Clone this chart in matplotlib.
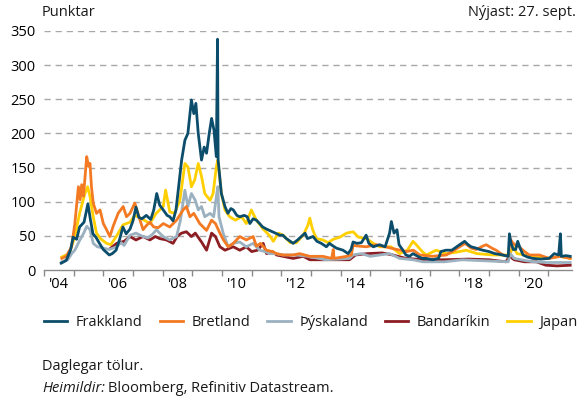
import numpy as np
import matplotlib.pyplot as plt
from matplotlib.ticker import FixedLocator, NullFormatter

plt.rcParams['font.family'] = ['Open Sans', 'DejaVu Sans']
plt.rcParams['font.size'] = 10.5
plt.rcParams['text.color'] = '#1a1a1a'

# Áhættuálag (punktar), lesið sem ár með aukastaf
fr_t = [2004.58, 2004.75, 2004.9, 2004.98, 2005.1, 2005.2, 2005.35, 2005.48, 2005.56, 2005.65,
        2005.75, 2005.87, 2006.0, 2006.2, 2006.3, 2006.43, 2006.55, 2006.66, 2006.77, 2006.9,
        2007.0, 2007.1, 2007.2, 2007.3, 2007.45, 2007.6, 2007.7, 2007.8, 2007.9, 2008.02,
        2008.15, 2008.24, 2008.35, 2008.45, 2008.56, 2008.64, 2008.75, 2008.85, 2008.97, 2009.05,
        2009.12, 2009.2, 2009.31, 2009.4, 2009.48, 2009.57, 2009.65, 2009.73, 2009.81, 2009.85,
        2009.87, 2009.98, 2010.1, 2010.2, 2010.3, 2010.38, 2010.5, 2010.6, 2010.75, 2010.85,
        2010.94, 2011.05, 2011.16, 2011.27, 2011.37, 2011.5, 2011.6, 2011.7, 2011.85, 2011.95,
        2012.05, 2012.17, 2012.3, 2012.4, 2012.55, 2012.7, 2012.8, 2012.88, 2013.07, 2013.2,
        2013.35, 2013.52, 2013.62, 2013.75, 2013.86, 2014.08, 2014.25, 2014.35, 2014.42, 2014.55,
        2014.7, 2014.86, 2014.95, 2015.1, 2015.31, 2015.5, 2015.65, 2015.71, 2015.8, 2015.9,
        2015.97, 2016.1, 2016.2, 2016.32, 2016.44, 2016.6, 2016.75, 2016.88, 2017.1, 2017.3,
        2017.38, 2017.55, 2017.75, 2018.01, 2018.18, 2018.3, 2018.4, 2018.57, 2018.7, 2018.79,
        2019.0, 2019.2, 2019.46, 2019.65, 2019.69, 2019.74, 2019.82, 2019.9, 2019.97, 2020.05,
        2020.15, 2020.3, 2020.47, 2020.75, 2021.03, 2021.2, 2021.35, 2021.41, 2021.44, 2021.6,
        2021.74]
fr_v = [10, 14, 30, 48, 45, 63, 70, 97, 75, 53,
        48, 39, 30, 22, 24, 29, 45, 63, 53, 60,
        72, 92, 77, 75, 80, 74, 88, 112, 95, 88,
        80, 78, 72, 88, 130, 161, 190, 200, 249, 229,
        244, 200, 161, 180, 171, 200, 222, 205, 166, 338,
        161, 112, 93, 83, 90, 88, 80, 78, 80, 78,
        68, 75, 73, 68, 63, 60, 58, 56, 53, 51,
        51, 46, 42, 39, 44, 50, 54, 46, 49, 42,
        39, 34, 39, 35, 32, 29, 24, 30, 41, 39,
        40, 51, 39, 34, 37, 34, 54, 71, 54, 59,
        37, 29, 22, 20, 24, 20, 17, 17, 15, 17,
        27, 29, 29, 37, 42, 37, 34, 32, 30, 29,
        27, 24, 22, 20, 53, 40, 30, 30, 42, 32,
        22, 19, 17, 16, 17, 24, 22, 53, 20, 21,
        20]

uk_t = [2004.6, 2004.75, 2004.93, 2005.04, 2005.16, 2005.22, 2005.27, 2005.33, 2005.44, 2005.5,
        2005.55, 2005.6, 2005.66, 2005.77, 2005.89, 2006.0, 2006.11, 2006.22, 2006.33, 2006.5,
        2006.67, 2006.78, 2006.9, 2007.06, 2007.2, 2007.34, 2007.45, 2007.57, 2007.7, 2007.85,
        2008.02, 2008.24, 2008.47, 2008.69, 2008.8, 2008.92, 2009.05, 2009.25, 2009.48, 2009.65,
        2009.78, 2009.93, 2010.05, 2010.21, 2010.38, 2010.6, 2010.82, 2011.05, 2011.16, 2011.3,
        2011.5, 2011.7, 2011.84, 2012.06, 2012.4, 2012.62, 2012.96, 2013.4, 2013.7, 2013.75,
        2013.78, 2014.2, 2014.36, 2014.42, 2014.6, 2014.87, 2015.2, 2015.5, 2015.7, 2015.9,
        2016.22, 2016.45, 2016.67, 2017.1, 2017.56, 2017.8, 2018.01, 2018.2, 2018.4, 2018.57,
        2018.79, 2018.91, 2019.1, 2019.24, 2019.47, 2019.66, 2019.71, 2019.8, 2019.9, 2020.02,
        2020.2, 2020.36, 2020.7, 2021.03, 2021.4, 2021.74]
uk_v = [17, 20, 34, 68, 122, 103, 125, 108, 166, 152,
        156, 122, 98, 83, 88, 68, 59, 49, 64, 83,
        93, 78, 83, 98, 78, 59, 65, 70, 63, 62,
        68, 63, 73, 88, 93, 78, 83, 68, 58, 73,
        68, 54, 44, 34, 39, 49, 44, 49, 35, 39,
        29, 27, 24, 22, 22, 24, 20, 20, 17, 30,
        17, 20, 22, 36, 35, 34, 37, 34, 32, 30,
        27, 29, 22, 20, 22, 28, 34, 39, 32, 30,
        35, 37, 32, 29, 22, 20, 46, 40, 36, 34,
        27, 22, 22, 17, 20, 17]

de_t = [2004.6, 2004.8, 2004.95, 2005.04, 2005.21, 2005.35, 2005.44, 2005.55, 2005.66, 2005.8,
        2006.0, 2006.2, 2006.45, 2006.6, 2006.7, 2006.9, 2007.1, 2007.34, 2007.5, 2007.65,
        2007.79, 2007.9, 2008.02, 2008.24, 2008.47, 2008.6, 2008.75, 2008.85, 2008.97, 2009.1,
        2009.2, 2009.31, 2009.42, 2009.6, 2009.72, 2009.81, 2009.86, 2009.9, 2010.04, 2010.21,
        2010.38, 2010.6, 2010.82, 2011.05, 2011.27, 2011.45, 2011.61, 2011.8, 2012.06, 2012.5,
        2012.9, 2013.5, 2014.0, 2014.3, 2014.42, 2014.7, 2015.0, 2015.32, 2015.65, 2015.99,
        2016.44, 2016.78, 2017.5, 2018.1, 2018.6, 2019.1, 2019.65, 2019.72, 2019.85, 2020.2,
        2020.5, 2020.93, 2021.74]
de_v = [12, 15, 25, 29, 44, 55, 64, 59, 39, 34,
        32, 30, 34, 40, 36, 51, 54, 49, 47, 52,
        59, 54, 49, 44, 49, 73, 117, 93, 112, 102,
        88, 93, 78, 83, 78, 107, 122, 78, 54, 34,
        39, 41, 34, 39, 29, 27, 24, 24, 22, 22,
        20, 15, 16, 17, 22, 24, 20, 22, 24, 17,
        15, 12, 12, 15, 14, 13, 12, 24, 17, 14,
        12, 11, 11]

us_t = [2006.25, 2006.45, 2006.7, 2006.9, 2007.1, 2007.34, 2007.57, 2007.75, 2007.9, 2008.13,
        2008.35, 2008.5, 2008.64, 2008.8, 2008.97, 2009.1, 2009.31, 2009.48, 2009.65, 2009.78,
        2009.93, 2010.1, 2010.38, 2010.6, 2010.82, 2011.0, 2011.2, 2011.39, 2011.5, 2011.7,
        2011.84, 2012.06, 2012.4, 2012.74, 2012.96, 2013.5, 2014.3, 2014.5, 2014.9, 2015.4,
        2015.76, 2016.2, 2016.8, 2017.5, 2018.3, 2019.0, 2019.57, 2019.7, 2019.85, 2020.2,
        2020.6, 2020.92, 2021.3, 2021.74]
us_v = [32, 39, 42, 49, 44, 49, 44, 49, 46, 44,
        39, 50, 54, 56, 49, 54, 41, 29, 54, 49,
        34, 29, 34, 29, 34, 27, 29, 39, 24, 27,
        22, 20, 17, 20, 15, 15, 15, 22, 24, 25,
        22, 17, 15, 15, 16, 15, 12, 20, 15, 12,
        12, 7, 6, 7]

jp_t = [2004.6, 2004.85, 2005.04, 2005.2, 2005.38, 2005.47, 2005.55, 2005.66, 2005.77, 2005.9,
        2006.11, 2006.25, 2006.45, 2006.66, 2006.9, 2007.06, 2007.3, 2007.57, 2007.78, 2008.02,
        2008.1, 2008.24, 2008.4, 2008.58, 2008.75, 2008.85, 2008.97, 2009.08, 2009.2, 2009.31,
        2009.42, 2009.6, 2009.7, 2009.81, 2009.86, 2009.98, 2010.1, 2010.26, 2010.45, 2010.66,
        2010.82, 2010.99, 2011.16, 2011.39, 2011.61, 2011.73, 2011.9, 2012.06, 2012.3, 2012.51,
        2012.74, 2012.9, 2012.96, 2013.05, 2013.18, 2013.4, 2013.58, 2013.75, 2013.97, 2014.2,
        2014.42, 2014.6, 2014.87, 2015.1, 2015.32, 2015.7, 2015.99, 2016.25, 2016.44, 2016.55,
        2016.75, 2016.89, 2017.22, 2017.56, 2017.9, 2018.23, 2018.6, 2019.13, 2019.7, 2019.81,
        2019.95, 2020.2, 2020.48, 2020.93, 2021.4, 2021.74]
jp_v = [19, 24, 49, 83, 112, 122, 108, 78, 54, 46,
        39, 37, 50, 66, 70, 80, 75, 68, 83, 93,
        117, 85, 83, 102, 156, 151, 122, 132, 156, 137,
        112, 102, 112, 151, 161, 112, 88, 78, 73, 78,
        68, 88, 73, 60, 50, 42, 54, 51, 40, 40,
        51, 66, 76, 60, 46, 44, 40, 45, 48, 54,
        56, 48, 46, 39, 34, 34, 24, 29, 42, 37,
        27, 22, 29, 24, 26, 29, 24, 22, 22, 34,
        24, 22, 20, 17, 20, 17]

series = [
    ('Frakkland', fr_t, fr_v, '#0b4d6b'),
    ('Bretland', uk_t, uk_v, '#f37a22'),
    ('Þýskaland', de_t, de_v, '#9bb1c0'),
    ('Bandaríkin', us_t, us_v, '#8c1d22'),
    ('Japan', jp_t, jp_v, '#ffcf00'),
]
# teikniröð: Japan neðst, Frakkland efst
zorders = {'Japan': 2, 'Bandaríkin': 3, 'Þýskaland': 4, 'Bretland': 5, 'Frakkland': 6}

W, H = 579, 398
fig = plt.figure(figsize=(W / 100, H / 100), dpi=100)
ax = fig.add_axes([44 / W, 1 - 270 / H, (572 - 44) / W, (270 - 31) / H])

lines = []
for name, t, v, c in series:
    ln, = ax.plot(t, v, color=c, lw=2.0, label=name, zorder=zorders[name],
                  solid_joinstyle='round')
    lines.append(ln)

ax.set_xlim(2004, 2021.8)
ax.set_ylim(0, 350)
ax.set_yticks(np.arange(0, 351, 50))
for y in range(50, 351, 50):
    ax.axhline(y, color='#a8a8a8', lw=1.0, dashes=(4.5, 3.5), zorder=1)

# ár: strik við áramót, merkingar á miðju ári
ax.xaxis.set_major_locator(FixedLocator(np.arange(2004, 2022)))
ax.xaxis.set_major_formatter(NullFormatter())
lbl_years = np.arange(2004, 2021, 2)
ax.xaxis.set_minor_locator(FixedLocator(lbl_years + 0.5))
ax.set_xticklabels(["'%02d" % (y % 100) for y in lbl_years], minor=True)
ax.tick_params(axis='x', which='major', length=4, width=1, color='#8a8a8a', direction='out')
ax.tick_params(axis='x', which='minor', length=0, pad=5, labelsize=10.5)
ax.tick_params(axis='y', length=0, pad=6, labelsize=10.5)

for s in ['top', 'right', 'left']:
    ax.spines[s].set_visible(False)
ax.spines['bottom'].set_color('#8a8a8a')
ax.spines['bottom'].set_linewidth(1.0)

fig.text(42 / W, 1 - 13 / H, 'Punktar', ha='left', va='center', fontsize=10.5)
fig.text(576 / W, 1 - 13 / H, 'Nýjast: 27. sept.', ha='right', va='center', fontsize=10.5)

fig.legend(handles=lines, loc='center left', bbox_to_anchor=(44 / W, 1 - 323 / H),
           ncol=5, frameon=False, fontsize=10.5, handlelength=1.6, handletextpad=0.6,
           columnspacing=1.15, borderaxespad=0, borderpad=0)

fig.text(42 / W, 1 - 367 / H, 'Daglegar tölur.', ha='left', va='center', fontsize=10.5)
src = fig.text(42 / W, 1 - 388 / H, 'Heimildir:', ha='left', va='center', fontsize=10.5,
               style='italic')
fig.canvas.draw()
bb = src.get_window_extent()
fig.text(bb.x1 / W + 3 / W, 1 - 388 / H, 'Bloomberg, Refinitiv Datastream.', ha='left',
         va='center', fontsize=10.5)

fig.savefig('out.png', dpi=100)
